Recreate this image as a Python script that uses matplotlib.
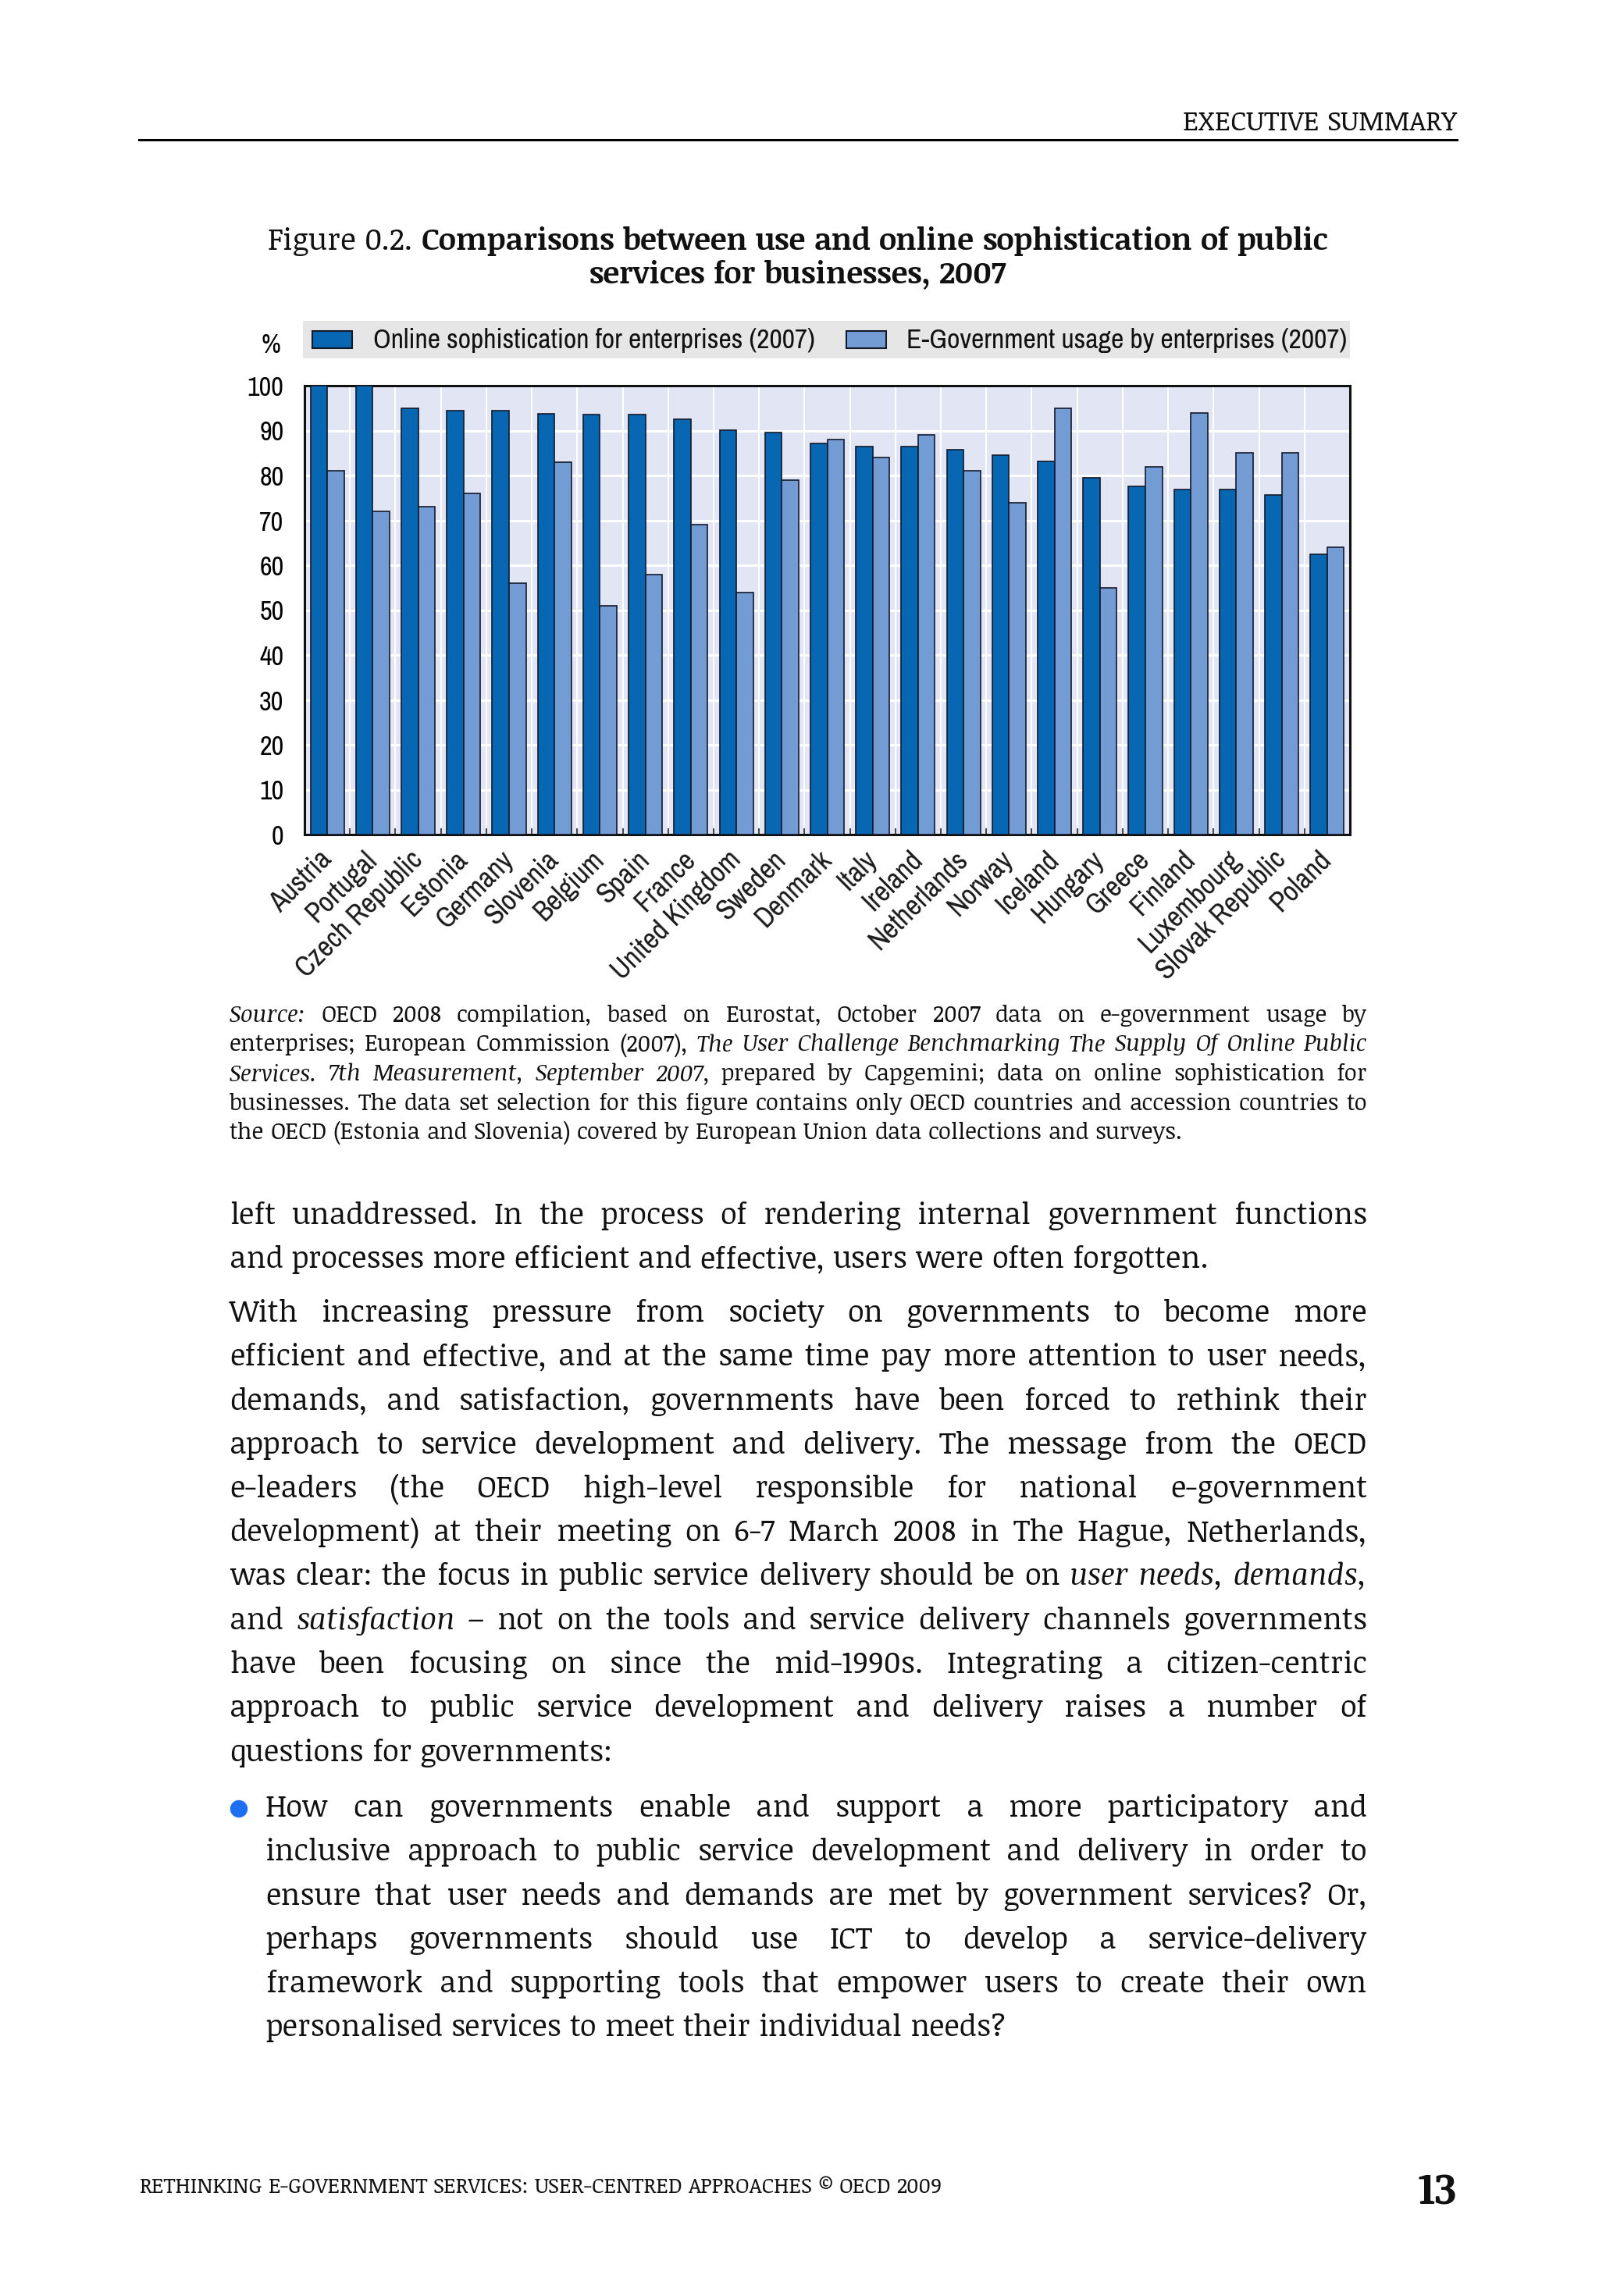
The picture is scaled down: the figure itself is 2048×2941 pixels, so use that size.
import matplotlib
matplotlib.use('Agg')
import matplotlib.pyplot as plt
import numpy as np
from matplotlib import font_manager
from matplotlib.transforms import IdentityTransform, ScaledTranslation
from matplotlib.patches import Circle, Rectangle

W, H = 2048, 2941


def pick(cands):
    names = {f.name for f in font_manager.fontManager.ttflist}
    for c in cands:
        if c in names:
            return c
    return cands[-1]


SERIF = pick(['Noticia Text', 'Roboto Slab', 'DejaVu Serif'])
SANS = pick(['Nimbus Sans Narrow', 'Liberation Sans Narrow', 'Archivo Narrow',
             'PT Sans Narrow', 'Roboto Condensed', 'DejaVu Sans'])

# ---- data ----
countries = ['Austria', 'Portugal', 'Czech Republic', 'Estonia', 'Germany', 'Slovenia',
             'Belgium', 'Spain', 'France', 'United Kingdom', 'Sweden', 'Denmark', 'Italy',
             'Ireland', 'Netherlands', 'Norway', 'Iceland', 'Hungary', 'Greece', 'Finland',
             'Luxembourg', 'Slovak Republic', 'Poland']
sophistication = [100, 100, 95.0, 94.5, 94.5, 93.8, 93.6, 93.5, 92.6, 90.1, 89.5, 87.2,
                  86.5, 86.4, 85.8, 84.5, 83.2, 79.5, 77.5, 76.9, 76.9, 75.7, 62.5]
usage = [81, 72, 73, 76, 56, 83, 51, 58, 69, 54, 79, 88, 84, 89, 81, 74, 95, 55, 82, 94,
         85, 85, 64]
yticks = list(range(0, 101, 10))
series_names = ['Online sophistication for enterprises (2007)',
                'E-Government usage by enterprises (2007)']
DARK, LIGHT, EDGE = '#0867b3', '#739cd5', '#141a2a'

# ---- page text (words starting with _ are italic, ^ bold) ----
title_lines = ['Figure 0.2. ^Comparisons ^between ^use ^and ^online ^sophistication ^of ^public',
               '^services ^for ^businesses, ^2007']
source_lines = [
    '_Source: OECD 2008 compilation, based on Eurostat, October 2007 data on e-government usage by',
    'enterprises; European Commission (2007), _The _User _Challenge _Benchmarking _The _Supply _Of _Online _Public',
    '_Services. _7th _Measurement, _September _2007, prepared by Capgemini; data on online sophistication for',
    'businesses. The data set selection for this figure contains only OECD countries and accession countries to',
    'the OECD (Estonia and Slovenia) covered by European Union data collections and surveys.',
]
para1 = ['left unaddressed. In the process of rendering internal government functions',
         'and processes more efficient and effective, users were often forgotten.']
para2 = ['With increasing pressure from society on governments to become more',
         'efficient and effective, and at the same time pay more attention to user needs,',
         'demands, and satisfaction, governments have been forced to rethink their',
         'approach to service development and delivery. The message from the OECD',
         'e-leaders (the OECD high-level responsible for national e-government',
         'development) at their meeting on 6-7 March 2008 in The Hague, Netherlands,',
         'was clear: the focus in public service delivery should be on _user _needs, _demands,',
         'and _satisfaction \u2013 not on the tools and service delivery channels governments',
         'have been focusing on since the mid-1990s. Integrating a citizen-centric',
         'approach to public service development and delivery raises a number of',
         'questions for governments:']
bullet = ['How can governments enable and support a more participatory and',
          'inclusive approach to public service development and delivery in order to',
          'ensure that user needs and demands are met by government services? Or,',
          'perhaps governments should use ICT to develop a service-delivery',
          'framework and supporting tools that empower users to create their own',
          'personalised services to meet their individual needs?']

fig = plt.figure(figsize=(W / 100, H / 100), dpi=100)
fig.patch.set_facecolor('white')
renderer = fig.canvas.get_renderer()
PIX = IdentityTransform()


def make_words(line, size, family, color='#111111'):
    objs = []
    for w in line.split():
        style, weight = 'normal', 'normal'
        if w.startswith('_'):
            style, w = 'italic', w[1:]
        elif w.startswith('^'):
            weight, w = 'bold', w[1:]
        objs.append(fig.text(0, 0, w, transform=PIX, va='baseline', ha='left',
                             fontsize=size, family=family, style=style,
                             weight=weight, color=color))
    return objs


def space_w(size, family):
    a = fig.text(0, 0, 'n n', fontsize=size, family=family, transform=PIX)
    b = fig.text(0, 0, 'nn', fontsize=size, family=family, transform=PIX)
    d = a.get_window_extent(renderer).width - b.get_window_extent(renderer).width
    a.remove(); b.remove()
    return d


def natural_width(lines, size, family):
    best = 0
    sp = space_w(size, family)
    for line in lines:
        objs = make_words(line, size, family)
        ws = [t.get_window_extent(renderer).width for t in objs]
        best = max(best, sum(ws) + sp * (len(ws) - 1))
        for t in objs:
            t.remove()
    return best


def fit(lines, target, family, cap=None):
    s = 20 * target / natural_width(lines, 20, family)
    return min(s, cap) if cap else s


def text_line(line, x0, x1, y, size, family=SERIF, align='justify', color='#111111'):
    objs = make_words(line, size, family, color)
    ws = [t.get_window_extent(renderer).width for t in objs]
    sp = space_w(size, family)
    if align == 'justify' and len(objs) > 1:
        gap = (x1 - x0 - sum(ws)) / (len(objs) - 1)
        x = x0
    else:
        gap = sp
        total = sum(ws) + gap * (len(objs) - 1)
        if align == 'left':
            x = x0
        elif align == 'center':
            x = (x0 + x1) / 2 - total / 2
        else:
            x = x1 - total
    for t, w in zip(objs, ws):
        t.set_position((x, H - y))
        x += w + gap


def block(lines, x0, x1, y0, step, size, family=SERIF):
    for i, line in enumerate(lines):
        al = 'left' if i == len(lines) - 1 else 'justify'
        text_line(line, x0, x1, y0 + i * step, size, family, al)


# ---- header / footer ----
hs = fit(['EXECUTIVE SUMMARY'], 351, SERIF)
text_line('EXECUTIVE SUMMARY', 178, 1866, 167, hs, align='right')
fig.add_artist(plt.Line2D([178, 1866], [H - 179, H - 179], transform=PIX, color='black', lw=2.2))
foot = 'RETHINKING E-GOVERNMENT SERVICES: USER-CENTRED APPROACHES \u00a9 OECD 2009'
fs = fit([foot], 1028, SERIF)
text_line(foot, 178, 1866, 2809, fs, align='left')
text_line('^13', 178, 1866, 2823, fit(['^13'], 50, SERIF), align='right')

# ---- figure title ----
ts = fit(title_lines[:1], 1358, SERIF)
text_line(title_lines[0], 343, 1701, 320, ts, align='center')
text_line(title_lines[1], 343, 1701, 363, ts, align='center')

# ---- chart ----
leg_fs = fit([series_names[0]], 566, SANS)
ytk_fs = fit(['100'], 47, SANS)
xtk_fs = fit(['Czech Republic'], 212, SANS)

ax = fig.add_axes([390 / W, 1 - 1069 / H, 1339 / W, 575 / H])
x = np.arange(len(countries))
bw = 0.37
ax.bar(x - bw / 2, sophistication, bw, color=DARK, edgecolor=EDGE,
       linewidth=1.2, zorder=3, label=series_names[0])
ax.bar(x + bw / 2, usage, bw, color=LIGHT, edgecolor=EDGE,
       linewidth=1.2, zorder=3, label=series_names[1])
ax.set_xlim(-0.5, len(countries) - 0.5)
ax.set_ylim(0, 100)
ax.set_facecolor('#e1e5f4')
ax.set_yticks(yticks)
ax.set_yticklabels([str(v) for v in yticks], family=SANS, fontsize=ytk_fs)
ax.yaxis.grid(True, color='white', lw=2.2)
ax.set_xticks(x)
ax.set_xticklabels(countries, rotation=45, ha='right', va='center', rotation_mode='anchor',
                   family=SANS, fontsize=xtk_fs, color='#1a1a1a')
shift = ScaledTranslation(0.06, 0, fig.dpi_scale_trans)
for lbl in ax.get_xticklabels():
    lbl.set_transform(lbl.get_transform() + shift)
ax.set_xticks(np.arange(-0.5, len(countries)), minor=True)
ax.xaxis.grid(True, which='minor', color='white', lw=1.5)
ax.set_axisbelow(True)
ax.tick_params(axis='x', which='major', length=0, pad=19)
ax.tick_params(axis='x', which='minor', direction='in', length=6, width=1.2, color='#222222')
ax.tick_params(axis='y', length=0, pad=19)
for sp in ax.spines.values():
    sp.set_linewidth(2.2)
    sp.set_color('#111111')

# legend strip above the plot
fig.add_artist(Rectangle((388, H - 459), 1729 - 388, 48, transform=PIX,
                         facecolor='#e6e6e6', edgecolor='none'))
for px0, txt_x, col, name in [(400, 478, DARK, series_names[0]),
                              (1084, 1161, LIGHT, series_names[1])]:
    fig.add_artist(Rectangle((px0, H - 446), 51, 22, transform=PIX, facecolor=col,
                             edgecolor=EDGE, lw=1.5))
    fig.text(txt_x, H - 436, name, transform=PIX, ha='left', va='center',
             family=SANS, fontsize=leg_fs, color='#111111')
fig.text(347 / W, 1 - 442 / H, '%', ha='center', va='center', family=SANS, fontsize=ytk_fs)

# ---- source note ----
ss = fit(source_lines[:4], 1457 * 0.985, SERIF)
block(source_lines, 294, 1751, 1309, 37.5, ss)

# ---- body text ----
bs = fit(para1 + para2 + bullet, 1457 * 0.985, SERIF, cap=30)
block(para1, 294, 1751, 1568, 56.25, bs)
block(para2, 294, 1751, 1693, 56.25, bs)
block(bullet, 340, 1751, 2327, 56.25, bs)
fig.add_artist(Circle((306, H - 2317), 10.5, transform=PIX, color='#1f6ff2'))

fig.savefig('out.png', dpi=100, facecolor='white')
